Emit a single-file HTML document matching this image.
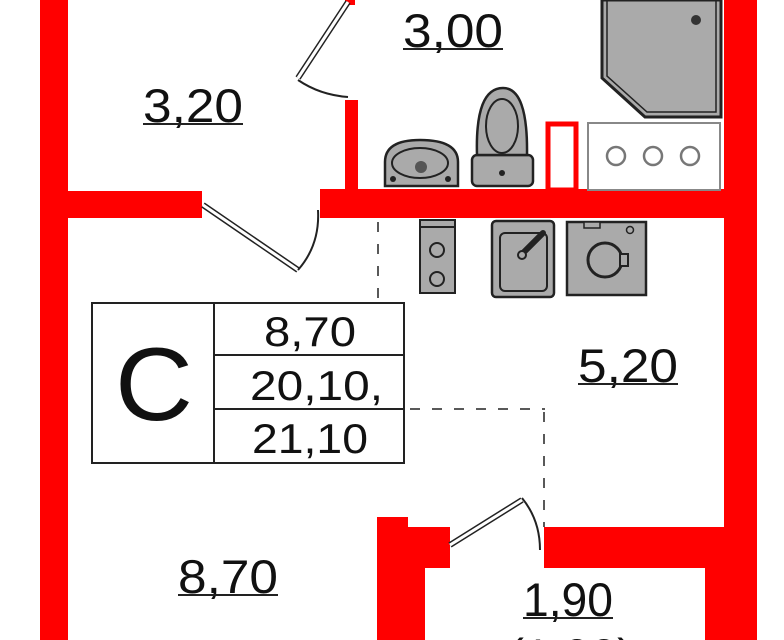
<!DOCTYPE html>
<html><head><meta charset="utf-8"><style>
html,body{margin:0;padding:0;background:#fff;width:784px;height:640px;overflow:hidden}
svg{display:block}
text{font-family:"Liberation Sans",sans-serif;fill:#111}
</style></head><body>
<svg width="784" height="640" viewBox="0 0 784 640" xmlns="http://www.w3.org/2000/svg">
<g fill="#f00">
<rect x="40" y="0" width="28" height="640"/>
<rect x="724" y="0" width="33" height="527"/>
<rect x="40" y="191" width="162" height="27"/>
<rect x="320" y="189" width="437" height="29"/>
<rect x="345" y="100" width="13" height="92"/>
<rect x="345" y="0" width="10" height="5"/>
<rect x="377" y="517" width="31" height="123"/>
<rect x="377" y="527" width="73" height="41"/>
<rect x="377" y="568" width="48" height="72"/>
<rect x="544" y="527" width="213" height="41"/>
<rect x="705" y="527" width="52" height="113"/>
</g>
<rect x="548" y="124" width="28" height="66" fill="none" stroke="#f00" stroke-width="5"/>
<path d="M602,0 H721 V117 H645 L602,78 Z" fill="#aaa" stroke="#222" stroke-width="3"/>
<path d="M607,0 V76 L647,112 H716 V0" fill="none" stroke="#222" stroke-width="1.5"/>
<circle cx="696" cy="20" r="5" fill="#333"/>
<rect x="588" y="123" width="132" height="67" fill="#fff" stroke="#888" stroke-width="2"/>
<g fill="none" stroke="#777" stroke-width="2.5"><circle cx="616" cy="156" r="9"/><circle cx="653" cy="156" r="9"/><circle cx="690" cy="156" r="9"/></g>
<path d="M385,186 V162 Q385,140 420,140 Q458,140 458,162 V186 Z" fill="#aaa" stroke="#222" stroke-width="2.5"/>
<ellipse cx="420" cy="163" rx="28" ry="15" fill="none" stroke="#222" stroke-width="2"/>
<circle cx="421" cy="167" r="6" fill="#555"/>
<circle cx="393" cy="179" r="3" fill="#222"/><circle cx="448" cy="179" r="3" fill="#222"/>
<rect x="472" y="155" width="61" height="31" rx="5" fill="#aaa" stroke="#222" stroke-width="2.5"/>
<path d="M477,155 Q475,88 503,88 Q528,88 527,155 Z" fill="#aaa" stroke="#222" stroke-width="2.5"/>
<ellipse cx="502" cy="126" rx="16" ry="27" fill="none" stroke="#222" stroke-width="2"/>
<circle cx="502" cy="173" r="3" fill="#222"/>
<rect x="420" y="220" width="35" height="73" fill="#aaa" stroke="#222" stroke-width="2"/>
<line x1="420" y1="227" x2="455" y2="227" stroke="#222" stroke-width="2"/>
<circle cx="437" cy="250" r="7" fill="none" stroke="#222" stroke-width="2"/>
<circle cx="437" cy="279" r="7" fill="none" stroke="#222" stroke-width="2"/>
<rect x="492" y="221" width="62" height="76" rx="4" fill="#aaa" stroke="#222" stroke-width="2.5"/>
<rect x="500" y="233" width="47" height="58" rx="5" fill="none" stroke="#222" stroke-width="2"/>
<line x1="521" y1="255" x2="543" y2="233" stroke="#222" stroke-width="6" stroke-linecap="round"/>
<circle cx="522" cy="255" r="4" fill="#aaa" stroke="#222" stroke-width="2"/>
<rect x="567" y="222" width="79" height="73" fill="#aaa" stroke="#222" stroke-width="2.5"/>
<rect x="584" y="222" width="16" height="6" fill="#aaa" stroke="#222" stroke-width="1.5"/>
<circle cx="630" cy="230" r="3.5" fill="none" stroke="#222" stroke-width="1.5"/>
<circle cx="605" cy="260" r="17" fill="none" stroke="#222" stroke-width="3"/>
<rect x="620" y="254" width="8" height="12" fill="#aaa" stroke="#222" stroke-width="2"/>
<g fill="none" stroke="#222">
<path d="M348,2 L298,78" stroke-width="6"/><path d="M348,2 L298,78" stroke="#fff" stroke-width="3"/>
<path d="M298,80 Q320,95 348,97" stroke-width="2"/>
<path d="M203,205 L298,270" stroke-width="6"/><path d="M203,205 L298,270" stroke="#fff" stroke-width="3"/>
<path d="M298,270 Q320,245 318,210" stroke-width="2"/>
<path d="M450,545 L522,500" stroke-width="6"/><path d="M450,545 L522,500" stroke="#fff" stroke-width="3"/>
<path d="M522,498 Q540,520 540,550" stroke-width="2"/>
</g>
<g stroke="#222" stroke-width="1.5" stroke-dasharray="10,12" fill="none">
<line x1="378" y1="222" x2="378" y2="300"/>
<line x1="410" y1="409" x2="545" y2="409"/>
<line x1="544" y1="412" x2="544" y2="527"/>
</g>
<g fill="none" stroke="#222" stroke-width="2">
<rect x="92" y="303" width="312" height="160"/>
<line x1="214" y1="303" x2="214" y2="463"/>
<line x1="214" y1="355" x2="404" y2="355"/>
<line x1="214" y1="409" x2="404" y2="409"/>
</g>
<text x="115" y="420" font-size="104" textLength="78" lengthAdjust="spacingAndGlyphs">C</text>
<text x="264" y="346" font-size="42" textLength="92" lengthAdjust="spacingAndGlyphs">8,70</text>
<text x="250" y="400" font-size="42" textLength="133" lengthAdjust="spacingAndGlyphs">20,10,</text>
<text x="252" y="453" font-size="42" textLength="116" lengthAdjust="spacingAndGlyphs">21,10</text>
<g font-size="47">
<text x="403" y="47" textLength="100" lengthAdjust="spacingAndGlyphs">3,00</text>
<text x="143" y="122" textLength="100" lengthAdjust="spacingAndGlyphs">3,20</text>
<text x="578" y="382" textLength="100" lengthAdjust="spacingAndGlyphs">5,20</text>
<text x="178" y="593" textLength="100" lengthAdjust="spacingAndGlyphs">8,70</text>
<text x="523" y="616" textLength="90" lengthAdjust="spacingAndGlyphs">1,90</text>
<text x="508" y="672" textLength="125" lengthAdjust="spacingAndGlyphs">(1,90)</text>
</g>
<g stroke="#222" stroke-width="2">
<line x1="403" y1="49" x2="503" y2="49"/>
<line x1="143" y1="124" x2="243" y2="124"/>
<line x1="578" y1="384" x2="678" y2="384"/>
<line x1="178" y1="595" x2="278" y2="595"/>
<line x1="523" y1="618" x2="613" y2="618"/>
</g>
</svg>
</body></html>
